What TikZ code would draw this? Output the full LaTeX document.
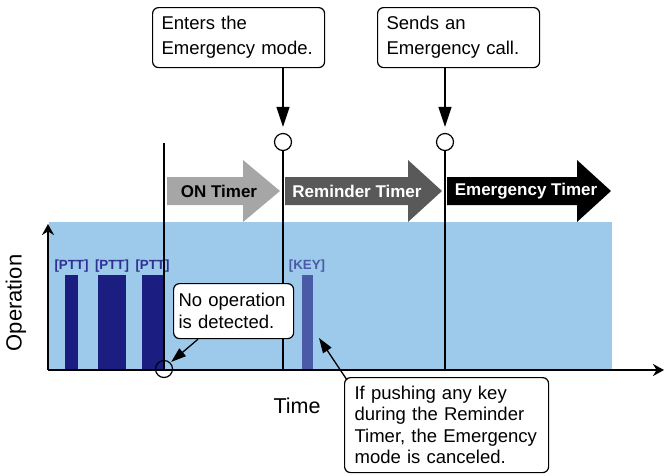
\documentclass[tikz,border=0pt]{standalone}
\usepackage{fontspec}
\setmainfont{Liberation Sans}
\usepackage{tikz}
\usetikzlibrary{arrows.meta,positioning}
\definecolor{opblue}{RGB}{157,202,235}
\definecolor{pttbar}{RGB}{28,29,128}
\definecolor{pttlabel}{RGB}{46,49,146}
\definecolor{keybar}{RGB}{75,90,166}
\definecolor{ontimer}{RGB}{166,166,166}
\definecolor{remtimer}{RGB}{89,89,89}
\tikzstyle{every node}=[font=\fontsize{18.5}{22}\selectfont]

\begin{document}
\begin{tikzpicture}[x=1pt,y=-1pt,line width=1.2pt,
                    >={Triangle[length=20pt,width=13pt]}]
  \tikzstyle{callout}=[draw,fill=white,rounded corners=6pt,align=left,
                       anchor=north west,inner ysep=0pt]
  \tikzstyle{eventmark}=[draw,circle,minimum size=17pt,inner sep=0pt]
  \tikzstyle{opkey}=[font=\fontsize{13.3}{14}\selectfont\bfseries]
  \tikzstyle{timer}=[font=\fontsize{17}{18}\selectfont\bfseries]
  \useasboundingbox (0,0) rectangle (664,475);

  % operation area and key presses
  \fill[opblue] (49,222) rectangle (612,370);
  \fill[pttbar] (65,275) rectangle (78,370);
  \fill[pttbar] (98,275) rectangle (126,370);
  \fill[pttbar] (142,275) rectangle (163,370);
  \fill[keybar] (302,275) rectangle (313,370);
  \node[opkey,text=pttlabel] (ptt1) at (71.5,266) {[PTT]};
  \node[opkey,text=pttlabel] (ptt2) at (112,266)  {[PTT]};
  \node[opkey,text=pttlabel] (ptt3) at (152.5,266) {[PTT]};
  \node[opkey,text=keybar]   (key)  at (307,266)  {[KEY]};

  % timers
  \foreach \xa/\xb/\xc/\col in {167/243/280/ontimer,285/408/442/remtimer,447/577/611/black}
    \fill[\col] (\xa,177) -- (\xb,177) -- (\xb,160) -- (\xc,191)
                -- (\xb,222) -- (\xb,205) -- (\xa,205) -- cycle;
  \node[timer,text=black] (ont)  at (219,191) {ON Timer};
  \node[timer,text=white] (remt) at (357,191) {Reminder Timer};
  \node[timer,text=white] (emgt) at (526,191) {Emergency Timer};

  % axes
  \coordinate (O) at (48,370);
  \coordinate (ytip) at (48,224);
  \coordinate (xtip) at (664,370);
  \draw[line width=1.6pt,-{Stealth[length=11pt,width=12pt]}] (O) -- (ytip);
  \draw[line width=2pt,-{Stealth[length=11pt,width=12pt]}] (O) -- (xtip);
  \node[font=\fontsize{22}{24}\selectfont,rotate=90] (oplab) at (16,303) {Operation};
  \node[font=\fontsize{21.5}{24}\selectfont] (timelab) at (297,405.5) {Time};

  % events
  \coordinate (idletop) at (164,143);
  \node[eventmark] (idle)  at (164,369) {};
  \node[eventmark] (modeC) at (283,142) {};
  \node[eventmark] (callC) at (445,142) {};
  \draw (idletop) -- (idle.center);
  \draw (modeC.south) -- (modeC |- O);
  \draw (callC.south) -- (callC |- O);

  % callouts
  \node[callout,text width=154pt,inner xsep=9pt,minimum height=60pt,
        font=\fontsize{18.5}{25}\selectfont] (enter) at (152,7)
        {Enters the\\Emergency mode.};
  \node[callout,text width=144pt,inner xsep=9pt,minimum height=60pt,
        font=\fontsize{18.5}{25}\selectfont] (sends) at (377,7)
        {Sends an\\Emergency call.};
  \node[callout,text width=110pt,inner xsep=5pt,minimum height=55pt,
        font=\fontsize{18.5}{21.5}\selectfont] (noop) at (173,283)
        {No operation\\is detected.};
  \node[callout,text width=184pt,inner xsep=10pt,minimum height=95pt,
        font=\fontsize{18.5}{21.5}\selectfont] (cancel) at (344,377)
        {If pushing any key\\during the Reminder\\Timer, the Emergency\\mode is canceled.};
  \coordinate (keyhit) at (319,338);

  \path[->,line width=1.3pt]
        (enter.south -| modeC) edge [shorten >=6pt] (modeC.north)
        (sends.south -| callC) edge [shorten >=6pt] (callC.north);
  \path[-{Triangle[length=15pt,width=10pt]},line width=1.3pt]
        ([xshift=25pt]noop.south west) edge [shorten >=1pt] (idle.north east)
        ([xshift=3pt,yshift=-3pt]cancel.north west) edge (keyhit);
\end{tikzpicture}
\end{document}
